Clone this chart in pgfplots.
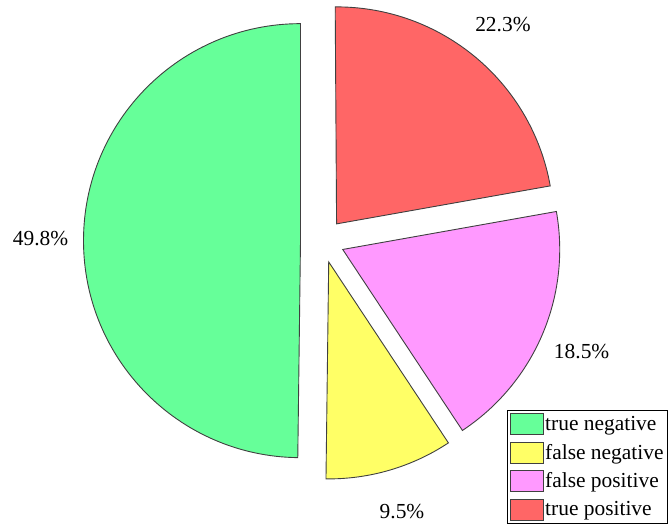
\documentclass[border=0pt]{standalone}
\usepackage{pgfplots}
\pgfplotsset{compat=1.18}
\usepackage{fontspec}
\setmainfont{Liberation Serif}

% data (percent)
\def\vTN{49.8}
\def\vFN{9.5}
\def\vFP{18.5}
\def\vTP{22.3}

\definecolor{cTN}{RGB}{102,255,153}
\definecolor{cFN}{RGB}{255,255,102}
\definecolor{cFP}{RGB}{255,153,255}
\definecolor{cTP}{RGB}{255,102,102}

\def\cx{322.5}
\def\cy{287.2}
\def\R{217}
\def\explode{22}
\def\lr{282}

% #1 start angle, #2 value, #3 colour
\newcommand{\pieslice}[3]{%
  \pgfmathsetmacro\sa{#1}%
  \pgfmathsetmacro\ea{#1+3.6*#2}%
  \pgfmathsetmacro\ma{(\sa+\ea)/2}%
  \pgfmathsetmacro\ax{\cx+\explode*cos(\ma)}%
  \pgfmathsetmacro\ay{\cy+\explode*sin(\ma)}%
  \pgfmathsetmacro\bx{\ax+\R*cos(\sa)}%
  \pgfmathsetmacro\by{\ay+\R*sin(\sa)}%
  \pgfmathsetmacro\lx{\cx+\lr*cos(\ma)}%
  \pgfmathsetmacro\ly{\cy+\lr*sin(\ma)}%
  \edef\temp{\noexpand\filldraw[fill=#3, draw=black!75, line width=0.9bp]
     (axis cs:\ax,\ay) -- (axis cs:\bx,\by)
     arc[start angle=\sa, end angle=\ea, radius=\R bp] -- cycle;
     \noexpand\node[font=\noexpand\rmfamily\noexpand\fontsize{21.5}{24}\noexpand\selectfont] at (axis cs:\lx,\ly) {#2\noexpand\%};}%
  \temp
}

\begin{document}
\begin{tikzpicture}
\begin{axis}[
  x=1bp, y=1bp,
  xmin=0, xmax=671, ymin=0, ymax=528,
  hide axis, clip=false,
  legend style={at={(axis cs:668,4)}, anchor=south east, draw=black, line width=0.9bp,
    font=\rmfamily\fontsize{21.5}{24}\selectfont, inner xsep=2.5bp, inner ysep=3bp, row sep=6.5bp,
    cells={anchor=west}, nodes={inner sep=1.5bp}},
  legend image code/.code={\draw[#1, draw=black!75, line width=0.9bp] (0bp,-10.5bp) rectangle (33bp,10.5bp);},
]
\path (axis cs:0,0) rectangle (axis cs:671,528);
\pgfmathsetmacro\aA{90}
\pgfmathsetmacro\aB{\aA+3.6*\vTN}
\pgfmathsetmacro\aC{\aB+3.6*\vFN}
\pgfmathsetmacro\aD{\aC+3.6*\vFP}
\pieslice{\aA}{\vTN}{cTN}
\pieslice{\aB}{\vFN}{cFN}
\pieslice{\aC}{\vFP}{cFP}
\pieslice{\aD}{\vTP}{cTP}
\addlegendimage{fill=cTN}\addlegendentry{true negative}
\addlegendimage{fill=cFN}\addlegendentry{false negative}
\addlegendimage{fill=cFP}\addlegendentry{false positive}
\addlegendimage{fill=cTP}\addlegendentry{true positive}
\end{axis}
\end{tikzpicture}
\end{document}
